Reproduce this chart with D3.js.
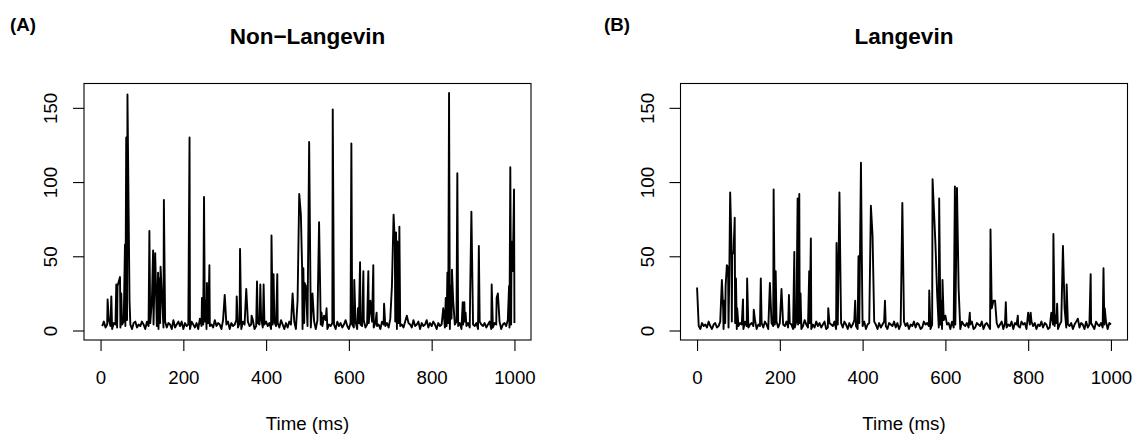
<!DOCTYPE html>
<html lang="en">
<head>
<meta charset="UTF-8">
<title>Non-Langevin vs Langevin</title>
<script src="https://d3js.org/d3.v7.min.js"></script>
<style>
  body { margin: 0; background: #fff; }
  text { font-family: "Liberation Sans", Arial, sans-serif; }
</style>
</head>
<body>
<svg id="chart" width="1135" height="434"></svg>
<script>
// sampling of the background noise (ms)
const step = 4;

// panel A: Non-Langevin
const startA = 4;
const noiseA = [
  3,6,2,4,7,3,1,5,4,2,6,2,4,6,3,7,2,4,1,5,6,2,4,3,6,
  4,1,6,3,5,2,4,7,3,1,5,4,2,6,2,5,4,1,7,2,4,6,3,6,1,
  5,3,4,1,6,4,2,5,1,8,3,4,6,1,5,3,4,2,7,3,5,4,1,7,3,
  4,6,1,5,3,4,7,2,5,1,6,4,2,6,3,4,7,1,3,5,4,8,2,4,6,
  3,5,1,4,6,3,5,2,7,4,1,5,2,6,4,3,6,1,4,6,3,1,5,4,3,
  6,2,4,6,1,7,2,4,3,5,7,1,4,3,5,4,1,6,3,5,2,4,7,3,1,
  5,4,2,6,1,5,4,3,7,2,4,5,1,6,2,5,3,4,1,6,4,3,5,2,8,
  3,4,6,1,5,3,4,2,6,1,5,4,2,7,3,4,6,1,5,3,4,7,2,5,3,
  6,4,1,5,3,4,6,2,3,5,1,8,2,4,6,3,5,1,4,6,3,5,2,7,4,
  3,5,1,6,4,3,5,2,4,6,1,2,5,4,3,6,1,4,5,3,7,2,4,1,5
];
const spikeTimesA = [
  17,26,38,41,44,47,50,59,62,65,68,70,
  118,124,127,130,132,139,142,145,148,153,
  215,245,250,254,257,263,300,329,337,352,365,378,386,394,
  413,418,427,464,476,480,484,487,490,493,496,504,512,528,534,540,546,
  561,606,613,622,627,635,647,652,659,667,685,
  704,708,711,714,717,722,740,
  828,834,838,842,846,849,852,862,875,879,882,893,896,914,945,957,960,
  987,990,993,996,999
];
const spikeValsA = [
  21,23,31,30,33,36,25,58,130,159,75,20,
  67,20,54,30,52,39,35,43,25,88,
  130,22,90,20,32,44,24,23,55,28,10,33,31,31,
  64,38,38,25,20,92,78,42,42,32,30,127,25,73,12,10,15,
  149,126,34,15,46,40,40,20,44,12,18,
  30,78,60,66,60,70,10,
  15,22,39,160,30,41,20,106,19,19,12,25,80,57,31,22,25,
  30,110,60,40,95
];

// panel B: Langevin
const startB = 0;
const noiseB = [
  4,3,1,5,3,4,2,6,3,1,4,5,2,3,6,4,1,5,3,2,4,6,3,5,1,
  3,5,4,1,6,3,2,4,5,3,7,1,4,3,5,2,6,4,1,2,5,3,4,6,2,
  5,1,4,3,6,2,5,4,1,2,6,4,5,1,3,7,4,2,5,1,4,2,6,3,5,
  2,4,6,1,2,5,4,3,6,1,4,3,5,2,6,4,1,5,2,4,7,3,1,5,4,
  3,6,1,4,5,3,2,6,4,1,5,2,4,6,3,1,5,4,3,6,2,5,1,4,2,
  6,3,5,1,4,3,6,2,5,4,1,2,6,4,5,3,1,4,6,3,5,2,4,1,7,
  2,4,5,1,6,2,4,3,5,1,6,4,3,5,2,4,6,1,2,5,4,3,6,1,4,
  5,3,1,6,4,3,5,2,4,6,1,5,2,4,3,6,1,5,4,3,2,6,4,5,1,
  2,4,6,3,5,1,4,3,6,2,5,4,1,2,6,4,3,5,1,4,6,3,5,2,4,
  3,5,1,4,6,3,2,5,4,1,6,2,4,5,3,1,6,4,3,5,2,4,6,1,5,4
];
const spikeTimesB = [
  0,60,63,66,69,72,75,78,80,83,85,88,91,94,97,
  111,121,137,154,176,185,190,204,222,235,243,247,250,271,275,
  317,337,344,347,382,390,396,399,420,424,454,496,
  561,569,572,576,580,585,589,593,600,623,628,632,659,
  709,712,716,720,746,775,800,806,856,861,866,870,884,888,893,920,951,982,985
];
const spikeValsB = [
  29,34,15,20,30,44,42,40,93,60,52,52,76,35,15,
  21,35,14,35,32,95,40,28,24,53,89,92,25,40,62,
  15,59,93,25,20,50,113,25,84,64,20,86,
  27,102,83,58,25,89,20,34,10,97,96,28,12,
  68,15,20,20,19,10,12,12,12,65,10,18,57,15,31,8,38,42,15
];

const xTicks = [0, 200, 400, 600, 800, 1000];
const yTicks = [0, 50, 100, 150];
const xLim = [0, 1000];
const yLim = [0, 160];

function series(start, noise, st, sv) {
  const pts = noise
    .map((v, i) => ({ t: start + i * step, v: v }))
    .filter(p => !st.includes(p.t));
  st.forEach((t, i) => pts.push({ t: t, v: sv[i] }));
  return pts.sort((a, b) => a.t - b.t);
}

const panels = [
  { tag: "(A)", tagX: 10, title: "Non\u2212Langevin", left: 84, data: series(startA, noiseA, spikeTimesA, spikeValsA) },
  { tag: "(B)", tagX: 604, title: "Langevin", left: 680.5, data: series(startB, noiseB, spikeTimesB, spikeValsB) }
];

const svg = d3.select("#chart");
const plotTop = 83.5, plotBottom = 340, w = 447;

// R style 4% extension of the ranges
const pad = (l) => [l[0] - 0.04 * (l[1] - l[0]), l[1] + 0.04 * (l[1] - l[0])];

panels.forEach(p => {
  const x = d3.scaleLinear().domain(pad(xLim)).range([p.left, p.left + w]);
  const y = d3.scaleLinear().domain(pad(yLim)).range([plotBottom, plotTop]);

  svg.append("path")
    .datum(p.data)
    .attr("fill", "none")
    .attr("stroke", "#000")
    .attr("stroke-width", 1.9)
    .attr("stroke-linejoin", "round")
    .attr("d", d3.line().x(d => x(d.t)).y(d => y(d.v)));

  svg.append("rect")
    .attr("x", p.left).attr("y", plotTop)
    .attr("width", w).attr("height", plotBottom - plotTop)
    .attr("fill", "none").attr("stroke", "#000").attr("stroke-width", 1.1);

  const xa = svg.append("g")
    .attr("transform", "translate(0," + plotBottom + ")")
    .call(d3.axisBottom(x).tickValues(xTicks).tickSize(11).tickFormat(d3.format("d")));
  xa.select(".domain").remove();
  xa.selectAll("line").attr("stroke-width", 1.1);
  xa.selectAll("text").attr("y", 44).attr("dy", 0)
    .attr("font-size", "18.7px").attr("fill", "#000");

  const ya = svg.append("g")
    .attr("transform", "translate(" + p.left + ",0)")
    .call(d3.axisLeft(y).tickValues(yTicks).tickSize(11).tickFormat(d3.format("d")));
  ya.select(".domain").remove();
  ya.selectAll("line").attr("stroke-width", 1.1);
  ya.selectAll("text")
    .attr("x", 0).attr("dy", 0)
    .attr("text-anchor", "middle")
    .attr("transform", "translate(-27,0) rotate(-90)")
    .attr("font-size", "18.7px").attr("fill", "#000");

  svg.append("text")
    .attr("x", p.left + w / 2).attr("y", 44)
    .attr("text-anchor", "middle")
    .attr("font-size", "22.5px").attr("font-weight", "bold")
    .text(p.title);

  svg.append("text")
    .attr("x", p.left + w / 2).attr("y", 430)
    .attr("text-anchor", "middle")
    .attr("font-size", "18.7px")
    .text("Time (ms)");

  svg.append("text")
    .attr("x", p.tagX).attr("y", 31)
    .attr("font-size", "18.7px").attr("font-weight", "bold")
    .text(p.tag);
});
</script>
</body>
</html>
